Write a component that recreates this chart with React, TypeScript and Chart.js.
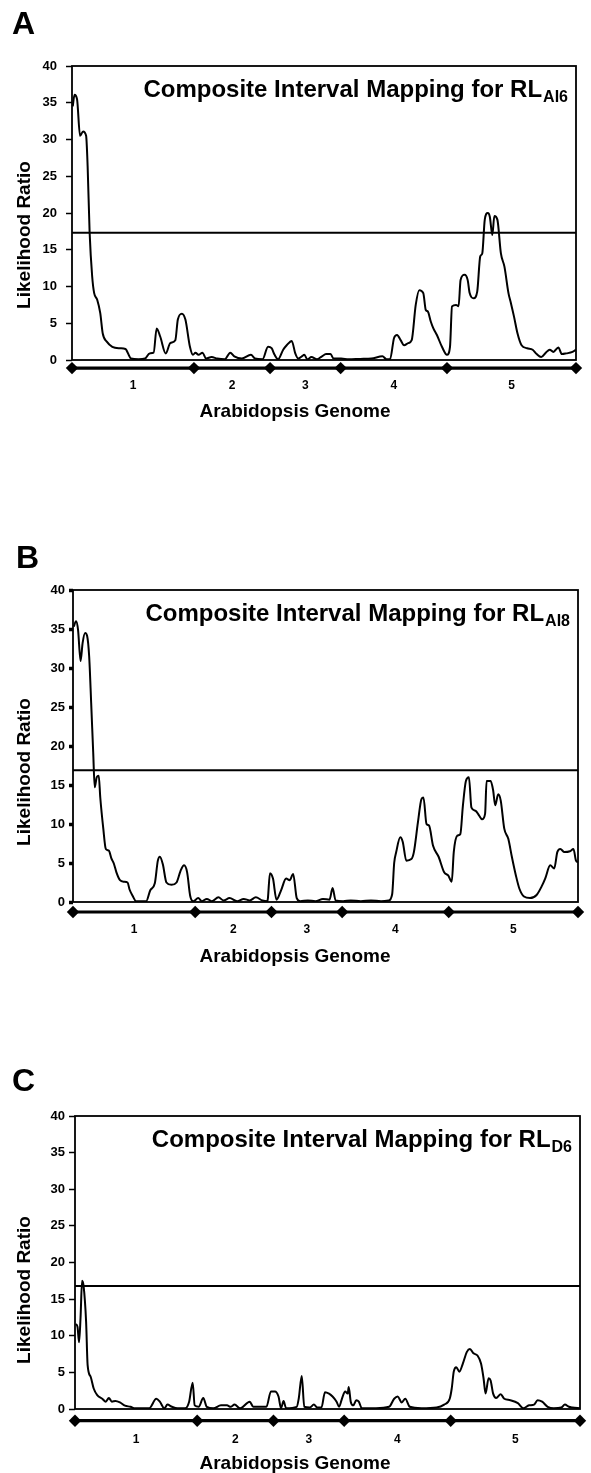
import React, { useEffect, useRef } from "react";
import { Chart, registerables } from "chart.js";

Chart.register(...registerables);

// ---------- data ----------
const chromLabels = ["1", "2", "3", "4", "5"];
// chromosome boundaries along the genome axis (percent of total map length)
const chromBounds = [0, 24.2, 39.3, 53.3, 74.4, 100];
const yTickStep = 5;
const yMax = 40;

const titleMain = "Composite Interval Mapping for RL";
const subA = "AI6";
const subB = "AI8";
const subC = "D6";

const thresholdA = 17.3;
const thresholdB = 16.9;
const thresholdC = 16.8;

// Panel A (RL AI6)
const posA = [0.15, 0.5, 1.0, 1.6, 2.2, 2.8, 3.1, 3.5, 4.0, 4.4, 5.0, 5.6, 6.1, 6.9, 8.0, 9.5, 10.6, 11.7, 13.2, 14.5, 15.4, 16.2, 16.8, 17.5, 18.6, 19.5, 20.5, 21.0, 21.8, 22.5, 23.4, 24.0, 24.5, 25.1, 25.9, 26.6, 27.7, 28.8, 30.3, 31.4, 32.2, 33.7, 35.5, 36.3, 37.8, 38.9, 39.6, 40.2, 40.9, 41.9, 42.6, 43.6, 44.3, 44.9, 45.6, 46.1, 46.7, 47.5, 48.6, 49.6, 50.4, 51.3, 51.9, 53.4, 54.9, 57.2, 59.4, 61.6, 62.4, 63.1, 63.9, 64.5, 65.2, 65.9, 66.7, 67.4, 68.2, 68.9, 69.7, 70.2, 70.6, 71.2, 71.7, 72.4, 73.4, 74.4, 75.0, 75.4, 76.2, 76.7, 77.1, 77.9, 78.5, 78.9, 79.7, 80.4, 81.0, 81.4, 81.9, 82.5, 82.9, 83.4, 83.8, 84.4, 85.1, 85.8, 86.6, 87.1, 87.7, 88.4, 89.2, 90.3, 91.4, 92.2, 93.1, 94.0, 94.8, 95.5, 96.5, 97.2, 98.1, 99.3, 100];
const lrA = [34.5, 36.1, 35.5, 30.5, 31.1, 30.5, 26.4, 17.3, 11.4, 9.1, 8.2, 6.4, 3.6, 2.5, 1.8, 1.6, 1.5, 0.2, 0.1, 0.2, 0.9, 1.0, 4.3, 3.2, 0.9, 2.3, 2.7, 5.5, 6.3, 5.5, 1.8, 0.7, 1.0, 0.7, 1.0, 0.2, 0.4, 0.2, 0.1, 1.0, 0.5, 0.2, 0.7, 0.2, 0.1, 1.8, 1.6, 0.7, 0.1, 1.4, 2.0, 2.6, 0.9, 0.2, 0.5, 0.7, 0.1, 0.4, 0.1, 0.5, 0.8, 0.8, 0.2, 0.2, 0.1, 0.15, 0.2, 0.5, 0.1, 0.1, 3.0, 3.4, 2.7, 2.0, 2.3, 2.7, 7.5, 9.5, 9.1, 6.8, 6.6, 5.2, 4.3, 3.4, 1.8, 0.7, 1.8, 7.3, 7.5, 7.3, 10.9, 11.6, 10.9, 9.1, 8.4, 9.3, 14.1, 14.5, 19.1, 20.0, 19.5, 17.0, 19.6, 19.1, 14.5, 12.7, 9.1, 7.7, 5.9, 3.6, 2.0, 1.6, 1.4, 0.8, 0.4, 1.0, 1.4, 1.1, 1.7, 0.8, 0.9, 1.1, 1.4];

// Panel B (RL AI8)
const posB = [0.15, 0.6, 1.0, 1.5, 1.9, 2.4, 2.8, 3.2, 3.6, 4.0, 4.3, 4.7, 5.1, 5.4, 6.0, 6.5, 7.1, 7.6, 8.1, 8.6, 9.3, 10.1, 10.8, 11.2, 11.8, 12.5, 14.5, 15.3, 16.2, 16.8, 17.2, 17.8, 18.5, 19.5, 20.5, 21.3, 22.0, 22.6, 23.2, 23.8, 24.8, 25.5, 26.5, 27.5, 28.8, 29.8, 31.0, 32.5, 33.8, 35.0, 36.2, 37.5, 38.5, 38.6, 39.0, 39.6, 40.3, 41.2, 42.2, 42.9, 43.6, 44.3, 45.0, 46.5, 48.0, 49.5, 50.8, 51.4, 52.0, 53.5, 55.0, 57.0, 59.0, 61.0, 62.5, 63.2, 63.6, 64.0, 64.8, 65.3, 66.0, 67.0, 67.5, 68.3, 69.0, 69.4, 70.0, 70.5, 71.3, 72.4, 73.5, 74.3, 75.0, 75.4, 76.1, 76.7, 77.2, 77.8, 78.4, 78.9, 79.7, 80.4, 81.0, 81.6, 81.9, 82.7, 83.2, 83.6, 84.2, 84.7, 85.4, 86.2, 86.9, 87.7, 88.4, 89.3, 90.5, 91.8, 92.8, 93.5, 94.5, 95.3, 95.9, 96.5, 97.3, 98.4, 99.1, 99.6, 100];
const lrB = [35.3, 36.0, 34.9, 30.9, 33.2, 34.5, 34.1, 31.5, 25.5, 19.2, 14.7, 16.0, 16.2, 13.4, 9.4, 6.8, 6.6, 5.6, 4.9, 3.8, 2.8, 2.6, 2.5, 1.6, 0.8, 0.1, 0.1, 1.5, 2.4, 5.3, 5.8, 4.8, 2.5, 2.2, 2.5, 4.0, 4.7, 3.8, 0.8, 0.1, 0.5, 0.1, 0.4, 0.1, 0.6, 0.2, 0.5, 0.1, 0.4, 0.2, 0.6, 0.2, 0.1, 0.5, 3.7, 3.0, 0.3, 1.5, 3.0, 2.8, 3.6, 0.5, 0.1, 0.2, 0.1, 0.4, 0.3, 1.8, 0.2, 0.1, 0.2, 0.1, 0.2, 0.1, 0.2, 1.0, 5.0, 6.4, 8.3, 7.7, 5.3, 5.5, 6.4, 10.2, 13.2, 13.4, 10.0, 9.8, 7.2, 5.8, 3.8, 3.4, 2.6, 6.4, 8.5, 8.7, 12.3, 15.5, 16.0, 12.1, 11.7, 11.1, 10.6, 11.3, 15.5, 15.5, 14.3, 12.4, 13.8, 13.0, 9.4, 8.1, 5.8, 3.4, 1.7, 0.7, 0.5, 0.9, 2.0, 3.0, 4.7, 4.3, 6.4, 6.8, 6.4, 6.5, 6.8, 5.3, 5.1];

// Panel C (RL D6)
const posC = [0.15, 0.5, 0.8, 1.1, 1.4, 1.7, 2.2, 2.5, 3.1, 3.7, 4.4, 5.4, 6.1, 6.7, 7.3, 8.0, 8.9, 9.9, 11.0, 11.7, 14.7, 16.1, 16.8, 17.7, 18.3, 19.2, 20.3, 21.8, 22.6, 23.3, 23.7, 24.5, 25.4, 26.1, 27.4, 28.9, 30.1, 30.8, 31.6, 32.7, 34.6, 35.3, 36.4, 37.9, 38.8, 39.6, 40.3, 40.8, 41.3, 41.8, 43.9, 44.3, 44.9, 45.4, 46.5, 47.3, 48.0, 48.8, 49.5, 50.3, 51.0, 51.8, 52.3, 52.9, 53.5, 54.0, 54.2, 54.6, 55.1, 55.7, 56.2, 56.8, 59.6, 62.2, 63.2, 63.9, 64.7, 65.4, 66.3, 68.6, 71.6, 73.1, 74.2, 74.6, 75.0, 75.5, 76.1, 76.8, 77.6, 78.2, 78.9, 79.7, 80.4, 80.9, 81.3, 81.9, 82.3, 82.8, 83.4, 84.3, 85.0, 86.2, 87.7, 88.8, 89.9, 90.9, 91.6, 92.5, 93.6, 94.8, 96.3, 97.0, 97.8, 98.5, 100];
const lrC = [11.6, 11.2, 9.1, 12.5, 17.5, 16.8, 11.9, 6.0, 4.4, 2.8, 1.9, 1.4, 1.0, 1.5, 1.0, 1.1, 0.9, 0.45, 0.3, 0.1, 0.1, 1.4, 1.0, 0.1, 0.6, 0.3, 0.1, 0.1, 1.0, 3.6, 0.5, 0.3, 1.5, 0.3, 0.1, 0.5, 0.5, 0.3, 0.6, 0.1, 1.0, 0.3, 0.3, 0.3, 2.4, 2.4, 1.7, 0.1, 1.1, 0.1, 0.3, 1.4, 4.5, 0.3, 0.2, 0.6, 0.2, 0.2, 2.3, 2.1, 1.7, 1.0, 0.3, 1.5, 2.4, 2.1, 3.0, 1.0, 0.5, 1.2, 1.0, 0.1, 0.1, 0.3, 1.4, 1.7, 0.9, 1.4, 0.3, 0.1, 0.2, 0.6, 1.4, 2.8, 5.1, 5.7, 5.1, 6.2, 7.8, 8.2, 7.6, 7.3, 6.2, 4.2, 2.1, 4.2, 3.9, 2.1, 1.5, 2.0, 1.4, 1.2, 0.8, 0.1, 0.5, 0.6, 1.2, 1.0, 0.3, 0.1, 0.2, 0.6, 0.3, 0.2, 0.1];

// ---------- layout / style (not data) ----------
const FONT = "'Liberation Sans', Arial, Helvetica, sans-serif";
const PAGE_W = 591;

type PanelCfg = {
  letter: string; pos: number[]; lr: number[]; thr: number; sub: string;
  top: number; height: number; L: number; R: number; T: number; Z: number;
  letterX: number; letterY: number; yTitleY: number; xTitleY: number;
  xLabelPad: number; markerRow: number; tickLen: number; tickW: number; tickPad: number;
};

const panels: PanelCfg[] = [
  { letter: "A", pos: posA, lr: lrA, thr: thresholdA, sub: subA, top: 0, height: 440,
    L: 72, R: 576, T: 66, Z: 360, letterX: 12, letterY: 34, yTitleY: 235, xTitleY: 417,
    xLabelPad: 18, markerRow: -1.1, tickLen: 6, tickW: 1.5, tickPad: 9 },
  { letter: "B", pos: posB, lr: lrB, thr: thresholdB, sub: subB, top: 520, height: 450,
    L: 73, R: 578, T: 590, Z: 902, letterX: 16, letterY: 568, yTitleY: 772, xTitleY: 962,
    xLabelPad: 20, markerRow: -1.28, tickLen: 4, tickW: 3.5, tickPad: 4 },
  { letter: "C", pos: posC, lr: lrC, thr: thresholdC, sub: subC, top: 1040, height: 433,
    L: 75, R: 580, T: 1116, Z: 1409, letterX: 12, letterY: 1091, yTitleY: 1290, xTitleY: 1469,
    xLabelPad: 23, markerRow: -1.6, tickLen: 6, tickW: 1.5, tickPad: 4 },
];

function Panel({ cfg }: { cfg: PanelCfg }) {
  const ref = useRef<HTMLCanvasElement | null>(null);
  useEffect(() => {
    const canvas = ref.current;
    if (!canvas) return;
    const mids = chromLabels.map((_, i) => (chromBounds[i] + chromBounds[i + 1]) / 2);
    const off = cfg.top;

    const decor = {
      id: "decor",
      afterDraw(chart: any) {
        const ctx = chart.ctx;
        const a = chart.chartArea;
        const xs = chart.scales.x;
        const ys = chart.scales.y;
        ctx.save();
        ctx.strokeStyle = "#000";
        ctx.lineWidth = 1.8;
        ctx.strokeRect(a.left, a.top, a.right - a.left, a.bottom - a.top);
        ctx.fillStyle = "#000";
        // chromosome boundary diamonds on the genome axis
        const my = ys.getPixelForValue(cfg.markerRow);
        const r = 6.2;
        chromBounds.forEach((b) => {
          const mx = xs.getPixelForValue(b);
          ctx.beginPath();
          ctx.moveTo(mx, my - r);
          ctx.lineTo(mx + r, my);
          ctx.lineTo(mx, my + r);
          ctx.lineTo(mx - r, my);
          ctx.closePath();
          ctx.fill();
        });
        // panel letter
        ctx.font = `bold 32px ${FONT}`;
        ctx.textAlign = "left";
        ctx.textBaseline = "alphabetic";
        ctx.fillText(cfg.letter, cfg.letterX, cfg.letterY - off);
        // inner title with subscript
        ctx.font = `bold 24px ${FONT}`;
        const mainW = ctx.measureText(titleMain).width;
        ctx.font = `bold 16px ${FONT}`;
        const subW = ctx.measureText(cfg.sub).width;
        const endX = a.right - 8;
        const x0 = endX - subW - mainW - 1;
        const base = a.top + 31;
        ctx.font = `bold 24px ${FONT}`;
        ctx.fillText(titleMain, x0, base);
        ctx.font = `bold 16px ${FONT}`;
        ctx.fillText(cfg.sub, x0 + mainW + 1, base + 5);
        // y title
        ctx.save();
        ctx.translate(25, cfg.yTitleY - off);
        ctx.rotate(-Math.PI / 2);
        ctx.font = `bold 19px ${FONT}`;
        ctx.textAlign = "center";
        ctx.textBaseline = "middle";
        ctx.fillText("Likelihood Ratio", 0, 0);
        ctx.restore();
        // x title
        ctx.font = `bold 19px ${FONT}`;
        ctx.textAlign = "center";
        ctx.textBaseline = "alphabetic";
        ctx.fillText("Arabidopsis Genome", 295, cfg.xTitleY - off);
        ctx.restore();
      },
    };

    const chart = new Chart(canvas, {
      type: "line",
      data: {
        datasets: [
          {
            data: cfg.pos.map((p, i) => ({ x: p, y: cfg.lr[i] })),
            borderColor: "#000",
            borderWidth: 2,
            pointRadius: 0,
            cubicInterpolationMode: "monotone",
          },
          {
            data: [{ x: chromBounds[0], y: cfg.thr }, { x: chromBounds[chromBounds.length - 1], y: cfg.thr }],
            borderColor: "#000",
            borderWidth: 2,
            pointRadius: 0,
          },
          {
            data: chromBounds.map((b) => ({ x: b, y: cfg.markerRow })),
            borderColor: "#000",
            backgroundColor: "#000",
            borderWidth: 3.2,
            pointRadius: 0,
            clip: false,
          } as any,
        ],
      },
      options: {
        responsive: false,
        animation: false,
        devicePixelRatio: 1,
        layout: { padding: { left: 0, top: cfg.T - off, right: PAGE_W - cfg.R, bottom: 0 } },
        plugins: { legend: { display: false }, tooltip: { enabled: false }, title: { display: false } },
        scales: {
          x: {
            type: "linear",
            min: chromBounds[0],
            max: chromBounds[chromBounds.length - 1],
            afterBuildTicks: (s: any) => { s.ticks = mids.map((v) => ({ value: v })); },
            afterFit: (s: any) => { s.height = cfg.height - (cfg.Z - off); },
            grid: { display: false, drawTicks: false },
            border: { display: false },
            ticks: {
              autoSkip: false,
              maxRotation: 0,
              padding: cfg.xLabelPad,
              color: "#000",
              font: { family: FONT, size: 12, weight: "bold" },
              callback: (_v: any, i: number) => chromLabels[i],
            },
          },
          y: {
            min: 0,
            max: yMax,
            afterFit: (s: any) => { s.width = cfg.L; },
            grid: { display: true, drawOnChartArea: false, drawTicks: true, tickLength: cfg.tickLen, tickWidth: cfg.tickW, tickColor: "#000" },
            border: { display: false },
            ticks: {
              stepSize: yTickStep,
              padding: cfg.tickPad,
              color: "#000",
              font: { family: FONT, size: 13, weight: "bold" },
            },
          },
        },
      },
      plugins: [decor],
    } as any);
    return () => chart.destroy();
  }, [cfg]);

  return (
    <canvas
      ref={ref}
      width={PAGE_W}
      height={cfg.height}
      style={{ position: "absolute", left: 0, top: cfg.top, width: PAGE_W, height: cfg.height }}
    />
  );
}

export default function App() {
  return (
    <div style={{ position: "absolute", left: 0, top: 0, width: PAGE_W, height: 1473, background: "#fff" }}>
      {panels.map((p) => (
        <Panel key={p.letter} cfg={p} />
      ))}
    </div>
  );
}
